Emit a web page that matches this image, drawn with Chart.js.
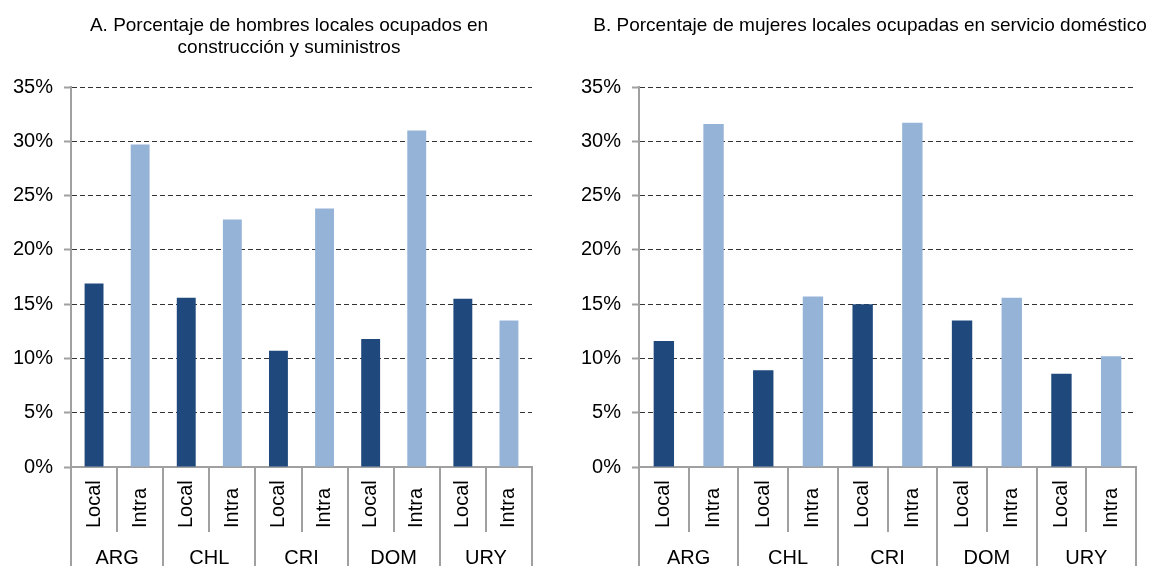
<!DOCTYPE html>
<html lang="es">
<head>
    <meta charset="UTF-8">
    <title>Ocupación de locales</title>
    <script src="https://cdn.jsdelivr.net/npm/chart.js"></script>
    <style>
        body {
            margin: 0;
            background: #fff;
            font-family: 'Liberation Sans', Arial, sans-serif;
        }

        .wrap {
            position: relative;
            width: 1154px;
            height: 566px;
            overflow: hidden;
        }

        .panel {
            position: absolute;
            top: 0;
            width: 577px;
            height: 566px;
        }

        .subtitle {
            position: absolute;
            top: 14px;
            transform: translateX(-50%);
            font-size: 19px;
            line-height: 22px;
            color: #000;
            text-align: center;
            white-space: nowrap;
        }
    </style>
</head>
<body>
    <div class="wrap">
        <div class="panel" style="left:0"><canvas id="chartA" width="577" height="566"></canvas></div>
        <div class="panel" style="left:577px"><canvas id="chartB" width="577" height="566"></canvas></div>
        <div class="subtitle" style="left:289px">A. Porcentaje de hombres locales ocupados en<br>construcción y suministros</div>
        <div class="subtitle" style="left:870px">B. Porcentaje de mujeres locales ocupadas en servicio doméstico</div>
    </div>

    <script>
        // data (percent)
        const countries = ['ARG', 'CHL', 'CRI', 'DOM', 'URY'];
        const groups = ['Local', 'Intra'];
        const hombresLocal = [16.9, 15.6, 10.7, 11.8, 15.5];
        const hombresIntra = [29.7, 22.8, 23.8, 31.0, 13.5];
        const mujeresLocal = [11.6, 8.9, 15.0, 13.5, 8.6];
        const mujeresIntra = [31.6, 15.7, 31.7, 15.6, 10.2];
        const yTicks = [0, 5, 10, 15, 20, 25, 30, 35];

        const darkBlue = '#1F497D';
        const lightBlue = '#95B3D7';
        const axisGray = '#a0a0a0';

        Chart.defaults.font.family = "'Liberation Sans', Arial, sans-serif";
        Chart.defaults.color = '#000';

        // two-level category axis: Local / Intra rotated, country underneath
        const groupAxis = {
            id: 'groupAxis',
            afterDraw(chart) {
                const ctx = chart.ctx;
                const x = chart.scales.x;
                const bottom = chart.chartArea.bottom;
                const n = chart.data.labels.length;
                const step = x.getPixelForValue(1) - x.getPixelForValue(0);

                ctx.save();
                ctx.strokeStyle = axisGray;
                ctx.lineWidth = 2;
                for (let i = 0; i <= n; i++) {
                    const px = Math.round(x.getPixelForValue(i) - step / 2);
                    const end = (i % 2 === 0) ? chart.height : bottom + 65;
                    ctx.beginPath();
                    ctx.moveTo(px, bottom);
                    ctx.lineTo(px, end);
                    ctx.stroke();
                }

                ctx.fillStyle = '#000';
                ctx.font = "20px 'Liberation Sans', Arial, sans-serif";
                for (let i = 0; i < n; i++) {
                    const px = x.getPixelForValue(i);
                    ctx.save();
                    ctx.translate(px, bottom + 61);
                    ctx.rotate(-Math.PI / 2);
                    ctx.textAlign = 'left';
                    ctx.textBaseline = 'middle';
                    ctx.fillText(groups[i % 2], 0, 0);
                    ctx.restore();
                }

                ctx.textAlign = 'center';
                ctx.textBaseline = 'middle';
                countries.forEach((c, k) => {
                    const cx = (x.getPixelForValue(2 * k) + x.getPixelForValue(2 * k + 1)) / 2;
                    ctx.fillText(c, cx, bottom + 91);
                });
                ctx.restore();
            }
        };

        function makeChart(id, localVals, intraVals, yWidth, padRight) {
            const labels = [];
            const values = [];
            const colors = [];
            countries.forEach((c, k) => {
                labels.push(c + ' Local', c + ' Intra');
                values.push(localVals[k], intraVals[k]);
                colors.push(darkBlue, lightBlue);
            });

            return new Chart(document.getElementById(id), {
                type: 'bar',
                data: {
                    labels: labels,
                    datasets: [{
                        data: values,
                        backgroundColor: colors,
                        categoryPercentage: 1,
                        barPercentage: 0.41
                    }]
                },
                options: {
                    responsive: false,
                    animation: false,
                    layout: { padding: { top: 87, right: padRight, left: 0, bottom: 0 } },
                    plugins: {
                        legend: { display: false },
                        tooltip: { enabled: false }
                    },
                    scales: {
                        x: {
                            ticks: { display: false },
                            grid: { display: false },
                            border: { color: axisGray, width: 2 },
                            afterFit: scale => { scale.height = 99; }
                        },
                        y: {
                            min: 0,
                            max: 35,
                            afterBuildTicks: scale => {
                                scale.ticks = yTicks.map(v => ({ value: v }));
                            },
                            afterFit: scale => { scale.width = yWidth; },
                            ticks: {
                                font: { size: 20 },
                                color: '#000',
                                padding: 11,
                                callback: v => v + '%'
                            },
                            grid: {
                                color: c => c.tick && c.tick.value === 0 ? 'rgba(0,0,0,0)' : '#333',
                                lineWidth: 1,
                                tickColor: axisGray,
                                tickWidth: 2,
                                tickLength: 7
                            },
                            border: { color: axisGray, width: 2, dash: [5, 3] }
                        }
                    }
                },
                plugins: [groupAxis]
            });
        }

        makeChart('chartA', hombresLocal, hombresIntra, 71, 45);
        makeChart('chartB', mujeresLocal, mujeresIntra, 62, 18);
    </script>
</body>
</html>
